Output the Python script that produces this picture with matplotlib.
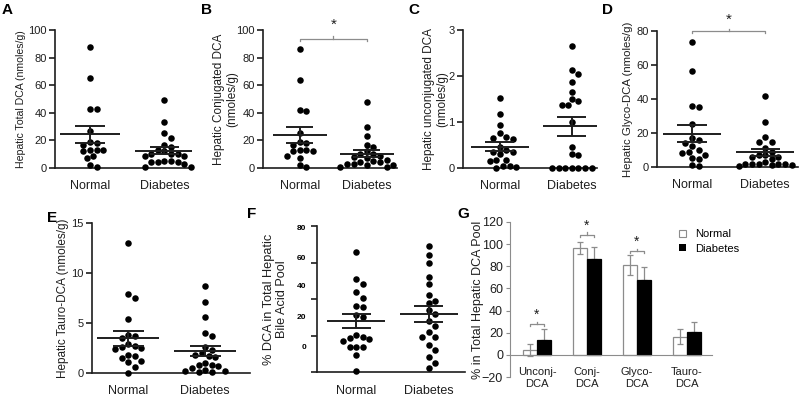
import numpy as np
import matplotlib
matplotlib.use('Agg')
import matplotlib.pyplot as plt
from matplotlib.patches import Patch

plt.rcParams['font.family'] = ['Liberation Sans', 'DejaVu Sans']

groups = ['Normal', 'Diabetes']

# A - hepatic total DCA (nmoles/g)
total_normal = [88, 65, 43, 43, 27, 19, 18, 17, 13, 13, 13, 12, 8.5, 7, 2.5, 0.5]
total_diab = [49, 33, 25, 22, 17, 15, 13, 12, 10, 10, 10, 9, 9, 5, 5, 4, 4, 4, 3, 1, 1]
# B - conjugated DCA
conj_normal = [86, 64, 42, 41, 25, 19, 18, 17, 13, 13, 12, 12, 9, 7, 2, 1]
conj_diab = [48, 30, 23, 17, 15, 12, 10, 10, 9, 8, 7, 6, 5, 4, 4, 3, 3, 2, 2, 1, 1]
# C - unconjugated DCA
unconj_normal = [1.52, 1.17, 0.93, 0.76, 0.68, 0.66, 0.62, 0.45, 0.40, 0.35, 0.34,
                 0.30, 0.18, 0.17, 0.15, 0.05, 0.04, 0.03, 0.0]
unconj_diab = [2.65, 2.13, 2.05, 1.87, 1.65, 1.50, 1.45, 1.37, 1.37, 1.0, 0.45, 0.3,
               0.28, 0, 0, 0, 0, 0, 0, 0]
# D - glyco-DCA
glyco_normal = [73.5, 56.5, 36, 35, 25.5, 17, 16, 14, 12.5, 10, 9, 8, 7, 5.5, 5, 1, 0.5]
glyco_diab = [41.5, 26.5, 17.5, 15, 15, 11, 9, 7, 7, 6, 6, 5, 3, 2, 2, 2, 1.5, 1.5, 1, 1, 0.5]
# E - tauro-DCA
tauro_normal = [13, 7.9, 7.5, 5.4, 3.8, 3.7, 3.5, 2.9, 2.7, 2.6, 2.5, 2.4, 1.8, 1.7,
                1.5, 1.2, 1.1, 0.6, 0.0]
tauro_diab = [8.7, 7.1, 5.6, 4.0, 3.7, 2.6, 2.3, 2.0, 1.8, 1.7, 1.6, 1.0, 0.8, 0.8,
              0.7, 0.5, 0.3, 0.2, 0.2, 0.1, 0.1]
# F - % DCA in total hepatic bile acid pool
pct_normal = [65.6, 50.9, 48.2, 43.6, 40.7, 36.1, 35.7, 30.2, 31.1, 20.1, 18, 18.7,
              19.2, 17, 13.7, 13.7, 13.7, 9.5, 0.5]
pct_diab = [69, 64, 60, 52, 48, 42, 39, 38, 34, 32, 28, 25, 22, 19, 19, 15, 12, 8, 5, 2]
f_tick_labels = ['0', '20', '40', '60', '80']

# G - composition of DCA pool
g_cats = ['Unconj-\nDCA', 'Conj-\nDCA', 'Glyco-\nDCA', 'Tauro-\nDCA']
g_normal = [4.5, 96.7, 81, 16.5]
g_normal_err = [5.5, 5.5, 9, 6.5]
g_diab = [13, 87, 67.5, 20.4]
g_diab_err = [10, 10.5, 12, 9.6]

fig = plt.figure(figsize=(8, 4), dpi=100)
dark = '#1e1e1e'
gray = '#8c8c8c'


def px_axes(l, t, r, b):
    return fig.add_axes([l / 800, 1 - b / 400, (r - l) / 800, (b - t) / 400])


def swarm(ax, x0, vals, d=6.6):
    tr = ax.transData
    pts = tr.transform(np.column_stack([np.full(len(vals), x0), vals]))
    xc = pts[0, 0]
    order = np.argsort(-np.asarray(vals))
    placed = []
    offs = np.zeros(len(vals))
    step = d * 0.5
    for i in order:
        y = pts[i, 1]
        for k in range(60):
            cands = [0.0] if k == 0 else [k * step, -k * step]
            ok = None
            for c in cands:
                if all((c - px) ** 2 + (y - py) ** 2 >= (d * 0.98) ** 2 for px, py in placed):
                    ok = c
                    break
            if ok is not None:
                break
        placed.append((ok, y))
        offs[i] = ok
    inv = tr.inverted()
    return inv.transform(np.column_stack([xc + offs, pts[:, 1]]))[:, 0]


def scatter_panel(ax, normal, diab, xlim, ylim, yticks):
    ax.set_xlim(*xlim)
    ax.set_ylim(*ylim)
    for s in ['top', 'right']:
        ax.spines[s].set_visible(False)
    for s in ['left', 'bottom']:
        ax.spines[s].set_color(dark)
        ax.spines[s].set_linewidth(1.2)
    ax.set_yticks(yticks)
    ax.tick_params(axis='y', direction='out', length=4, width=1.2, colors=dark, labelsize=8, pad=2)
    ax.tick_params(axis='x', length=0, labelsize=9, pad=9, colors=dark)
    ax.set_xticks([0, 1], groups)
    for i, vals in enumerate([normal, diab]):
        xs = swarm(ax, i, vals)
        ax.scatter(xs, vals, s=22, color='black', linewidths=0, clip_on=False, zorder=3)
        m = np.mean(vals)
        se = np.std(vals, ddof=1) / np.sqrt(len(vals))
        ax.hlines(m, i - 0.4, i + 0.4, color=dark, lw=1.4, zorder=4)
        ax.hlines([m - se, m + se], i - 0.2, i + 0.2, color=dark, lw=1.4, zorder=4)
        ax.vlines(i, m - se, m + se, color=dark, lw=1.4, zorder=4)


def label_y(ax, text, xright, size=8.5):
    l = ax.get_position().x0 * 800
    w = ax.get_position().width * 800
    ax.set_ylabel(text, fontsize=size, color=dark, linespacing=1.1)
    ax.yaxis.set_label_coords((xright - l) / w, 0.5)


def bracket(ax, x1, x2, y, h, star_y, color=gray, size=11):
    ax.plot([x1, x1, x2, x2], [y - h, y, y, y - h], color=color, lw=0.9, clip_on=False)
    xm = (x1 + x2) / 2
    ax.plot([xm, xm], [y, y + h], color=color, lw=0.9, clip_on=False)
    ax.text(xm, star_y, '*', ha='center', va='center', fontsize=size, color=dark, clip_on=False)


# ---- A
axA = px_axes(55, 30, 192, 168)
scatter_panel(axA, total_normal, total_diab, (-0.47, 1.37), (0, 100), range(0, 101, 20))
label_y(axA, 'Hepatic Total DCA (nmoles/g)', 26, size=7.6)

# ---- B
axB = px_axes(263, 30, 397, 168)
scatter_panel(axB, conj_normal, conj_diab, (-0.55, 1.45), (0, 100), range(0, 101, 20))
label_y(axB, 'Hepatic Conjugated DCA\n(nmoles/g)', 238)
bracket(axB, 0, 1, 93.5, 1.8, 104)

# ---- C
axC = px_axes(463, 30, 597, 168)
scatter_panel(axC, unconj_normal, unconj_diab, (-0.51, 1.35), (0, 3), [0, 1, 2, 3])
label_y(axC, 'Hepatic unconjugated DCA\n(nmoles/g)', 448)

# ---- D
axD = px_axes(657, 31, 798, 167)
scatter_panel(axD, glyco_normal, glyco_diab, (-0.48, 1.45), (0, 80), range(0, 81, 20))
label_y(axD, 'Hepatic Glyco-DCA (nmoles/g)', 633, size=8.2)
bracket(axD, 0, 1, 80, 1.4, 86.5)

# ---- E
axE = px_axes(92, 223, 250, 373)
scatter_panel(axE, tauro_normal, tauro_diab, (-0.47, 1.58), (0, 15), [0, 5, 10, 15])
label_y(axE, 'Hepatic Tauro-DCA (nmoles/g)', 69)

# ---- F
axF = px_axes(317, 226, 465, 372)
scatter_panel(axF, pct_normal, pct_diab, (-0.54, 1.5), (0, 80), range(0, 81, 20))
axF.tick_params(axis='y', which='major', labelleft=False)
axF.set_yticks([14.1, 30.2, 47.3, 62.6, 79.3], f_tick_labels, minor=True)
axF.tick_params(axis='y', which='minor', length=0, labelsize=6, pad=8)
for t in axF.get_yticklabels(minor=True):
    t.set_fontweight('bold')
label_y(axF, '% DCA in Total Hepatic\nBile Acid Pool', 288, size=9.2)

# ---- G
axG = px_axes(510, 222, 712, 377)
xg = np.arange(len(g_cats))
bw = 0.28
axG.bar(xg - bw / 2, g_normal, bw, color='white', edgecolor=gray, lw=0.9, zorder=2)
axG.errorbar(xg - bw / 2, g_normal, yerr=g_normal_err, fmt='none', ecolor=gray,
             elinewidth=0.9, capsize=2.5, capthick=0.9, zorder=3)
axG.bar(xg + bw / 2, g_diab, bw, color='black', edgecolor='black', lw=0.9, zorder=2)
axG.errorbar(xg + bw / 2, g_diab, yerr=[np.zeros(4), g_diab_err], fmt='none', ecolor=gray,
             elinewidth=0.9, capsize=2.5, capthick=0.9, zorder=1)
axG.set_xlim(-0.54, 3.5)
axG.set_ylim(-20, 120)
axG.set_yticks(range(-20, 121, 20))
for s in ['top', 'right']:
    axG.spines[s].set_visible(False)
axG.spines['left'].set_color(gray)
axG.spines['bottom'].set_color(gray)
axG.spines['bottom'].set_position(('data', 0))
axG.tick_params(axis='y', direction='out', length=3, color=gray, labelcolor=dark, labelsize=9, pad=2)
axG.tick_params(axis='x', length=0, labelsize=8, pad=9, labelcolor=dark)
axG.set_xticks(xg, g_cats)
label_y(axG, '% in Total Hepatic DCA Pool', 484, size=9)
bracket(axG, -bw / 2, bw / 2, 28, 2, 36.5, size=10)
bracket(axG, 1 - bw / 2, 1 + bw / 2, 108.7, 2, 116.5, size=10)
bracket(axG, 2 - bw / 2, 2 + bw / 2, 94, 2, 102, size=10)
handles = [Patch(facecolor='white', edgecolor=gray, lw=0.8), Patch(facecolor='black')]
axG.legend(handles, groups, loc='upper left', bbox_to_anchor=(0.81, 0.99), frameon=False,
           fontsize=8, handlelength=0.6, handleheight=0.6, handletextpad=0.8,
           borderpad=0, labelspacing=0.4)

# panel letters
for letter, x, y in [('A', 2, 3), ('B', 201, 3), ('C', 408, 3), ('D', 602, 3),
                     ('E', 47, 211), ('F', 247, 207), ('G', 457, 207)]:
    fig.text(x / 800, 1 - y / 400, letter, fontsize=11, fontweight='bold', va='top', ha='left')

fig.savefig('out.png', dpi=100)
